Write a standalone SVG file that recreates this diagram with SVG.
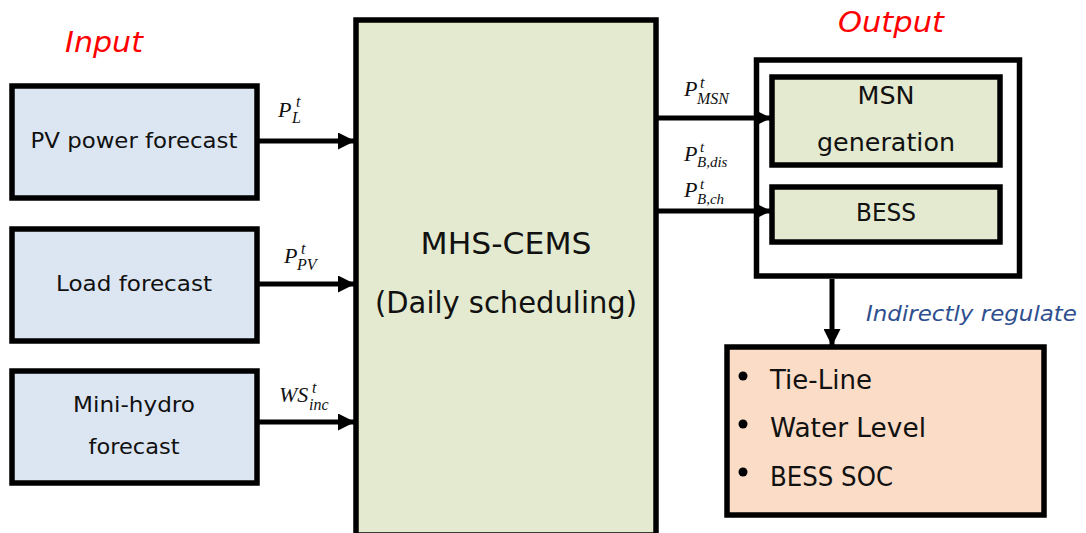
<svg xmlns="http://www.w3.org/2000/svg" width="1086" height="533" viewBox="0 0 1086 533">
<defs>
<marker id="ah" viewBox="0 0 10 10" refX="10" refY="5" markerWidth="3.6" markerHeight="3.4" markerUnits="strokeWidth" orient="auto"><path d="M0,0 L10,5 L0,10 z" fill="#000"/></marker>
</defs>
<style>
.box{stroke:#000;stroke-width:5.5}
.in{fill:#dce6f2}
.gr{fill:#e3eacf}
.pe{fill:#fbdcc6}
.t{font-family:"DejaVu Sans","Open Sans",sans-serif;fill:#111;text-anchor:middle}
.s{text-anchor:start}
.m{font-family:"Liberation Serif","DejaVu Serif",serif;font-style:italic;fill:#111;font-size:22px}
.sub{font-size:16px}
.sm{font-size:15px}
.c{fill:none;stroke:#000;stroke-width:5}
.lbl{font-family:"DejaVu Sans","Open Sans",sans-serif;font-style:italic}
</style>
<rect width="1086" height="533" fill="#fff"/>
<text class="lbl" x="65" y="52" font-size="28" fill="#f00" textLength="78" lengthAdjust="spacingAndGlyphs">Input</text>
<text class="lbl" x="838" y="32" font-size="28" fill="#f00" textLength="106" lengthAdjust="spacingAndGlyphs">Output</text>
<text class="lbl" x="866" y="321" font-size="21" fill="#2f4f8f" textLength="211" lengthAdjust="spacingAndGlyphs">Indirectly regulate</text>

<g id="pv"><rect class="box in" x="12" y="86" width="245" height="112"/><text class="t" x="134" y="148" font-size="22" textLength="207" lengthAdjust="spacingAndGlyphs">PV power forecast</text></g>
<g id="load"><rect class="box in" x="12" y="229" width="245" height="112"/><text class="t" x="134" y="291" font-size="22" textLength="156" lengthAdjust="spacingAndGlyphs">Load forecast</text></g>
<g id="hydro"><rect class="box in" x="12" y="371" width="245" height="112"/><text class="t" x="134" y="412" font-size="22" textLength="122" lengthAdjust="spacingAndGlyphs">Mini-hydro</text><text class="t" x="134" y="454" font-size="22" textLength="91" lengthAdjust="spacingAndGlyphs">forecast</text></g>
<g id="cems"><rect class="box gr" x="356" y="20" width="300" height="515"/><text class="t" x="506" y="254" font-size="30" textLength="171" lengthAdjust="spacingAndGlyphs">MHS-CEMS</text><text class="t" x="506" y="313" font-size="30" textLength="262" lengthAdjust="spacingAndGlyphs">(Daily scheduling)</text></g>
<g id="output"><rect x="756.5" y="60" width="263" height="216" fill="#fff" stroke="#000" stroke-width="5.5"/></g>
<g id="msn"><rect class="box gr" x="772" y="77" width="228" height="88"/><text class="t" x="886" y="104" font-size="25" textLength="57" lengthAdjust="spacingAndGlyphs">MSN</text><text class="t" x="886" y="151" font-size="25" textLength="138" lengthAdjust="spacingAndGlyphs">generation</text></g>
<g id="bess"><rect class="box gr" x="772" y="187" width="228" height="55"/><text class="t" x="886" y="221" font-size="25" textLength="60" lengthAdjust="spacingAndGlyphs">BESS</text></g>
<g id="reg"><rect class="box pe" x="727" y="347" width="317" height="168"/>
<circle cx="743" cy="376" r="4.5" fill="#000"/><circle cx="743" cy="424" r="4.5" fill="#000"/><circle cx="743" cy="472" r="4.5" fill="#000"/>
<text class="t s" x="770" y="389" font-size="26" textLength="102" lengthAdjust="spacingAndGlyphs">Tie-Line</text>
<text class="t s" x="770" y="437" font-size="26" textLength="156" lengthAdjust="spacingAndGlyphs">Water Level</text>
<text class="t s" x="770" y="486" font-size="26" textLength="123" lengthAdjust="spacingAndGlyphs">BESS SOC</text></g>

<g id="connectors">
<line class="c" x1="259" y1="141" x2="355" y2="141" marker-end="url(#ah)"/>
<line class="c" x1="259" y1="284" x2="355" y2="284" marker-end="url(#ah)"/>
<line class="c" x1="259" y1="422" x2="355" y2="422" marker-end="url(#ah)"/>
<line class="c" x1="658" y1="118" x2="771" y2="118" marker-end="url(#ah)"/>
<line class="c" x1="658" y1="211" x2="771" y2="211" marker-end="url(#ah)"/>
<line class="c" x1="832" y1="279" x2="832" y2="346" marker-end="url(#ah)"/>
</g>

<g id="labels">
<text class="m"><tspan x="278" y="117">P</tspan><tspan class="sub" x="296" y="107">t</tspan><tspan class="sub" x="292" y="123">L</tspan></text>
<text class="m"><tspan x="284" y="263">P</tspan><tspan class="sub" x="301" y="254">t</tspan><tspan class="sub" x="297" y="270">PV</tspan></text>
<text class="m"><tspan x="279" y="402">WS</tspan><tspan class="sub" x="312" y="393">t</tspan><tspan class="sub" x="309" y="410">inc</tspan></text>
<text class="m"><tspan x="684" y="96">P</tspan><tspan class="sub" x="700" y="88">t</tspan><tspan class="sub" x="697" y="104">MSN</tspan></text>
<text class="m"><tspan x="684" y="161">P</tspan><tspan class="sm" x="700" y="152">t</tspan><tspan class="sm" x="697" y="167">B,dis</tspan></text>
<text class="m"><tspan x="684" y="197">P</tspan><tspan class="sm" x="700" y="189">t</tspan><tspan class="sm" x="697" y="204">B,ch</tspan></text>
</g>
</svg>
